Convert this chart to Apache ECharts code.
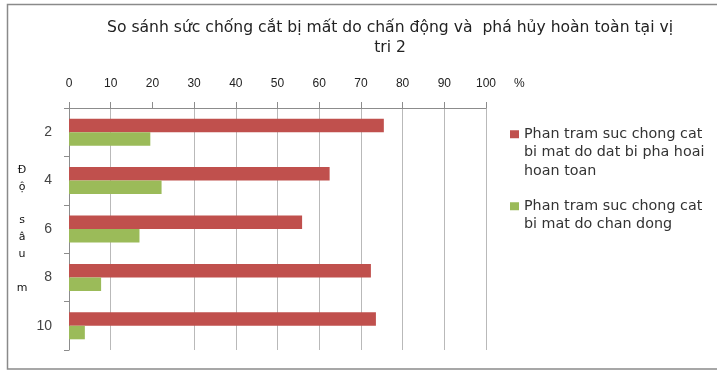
<!DOCTYPE html>
<html>
<head>
<meta charset="utf-8">
<script src="https://cdn.jsdelivr.net/npm/echarts@6/dist/echarts.min.js"></script>
<style>
  html, body { margin: 0; padding: 0; background: #fff; }
  #chart { width: 717px; height: 371px; }
</style>
</head>
<body>
<div id="chart"></div>
<script>
// Depth categories (m), top to bottom
const depths = ['2', '4', '6', '8', '10'];
// Percentage of shear strength lost
const lostByFailure = [75.5, 62.5, 55.9, 72.4, 73.6];
const lostByShaking = [19.5, 22.2, 16.9, 7.7, 3.8];
const seriesNames = [
  'Phan tram suc chong cat bi mat do dat bi pha hoai hoan toan',
  'Phan tram suc chong cat bi mat do chan dong'
];
// Legend labels wrapped; leading blank lines keep the swatch beside the first line
const legendLines = {
  [seriesNames[0]]: '\n\nPhan tram suc chong cat\nbi mat do dat bi pha hoai\nhoan toan',
  [seriesNames[1]]: '\nPhan tram suc chong cat\nbi mat do chan dong'
};
const titleText = 'So sánh sức chống cắt bị mất do chấn động và  phá hủy hoàn toàn tại vị\ntri 2';
const depthName = 'Đ\nộ\n \ns\nâ\nu\n \nm';

const grid = '#b9b9b9';
const axisGray = '#8c8c8c';

const chart = echarts.init(document.getElementById('chart'));
chart.setOption({
  animation: false,
  backgroundColor: '#fff',
  title: {
    text: titleText,
    left: 385,
    top: 13,
    textAlign: 'center',
    textStyle: {
      fontFamily: 'DejaVu Sans',
      fontSize: 15.6,
      fontWeight: 'normal',
      color: '#222',
      lineHeight: 20
    }
  },
  graphic: [{
    type: 'rect',
    shape: { x: 7.5, y: 4.5, width: 720, height: 364.5 },
    style: { fill: 'none', stroke: '#8a8a8a', lineWidth: 1.5 },
    silent: true
  }],
  legend: {
    orient: 'vertical',
    left: 505,
    top: 83,
    itemWidth: 9,
    itemHeight: 8,
    itemGap: -2,
    icon: 'rect',
    formatter: n => legendLines[n],
    textStyle: {
      fontFamily: 'DejaVu Sans',
      fontSize: 14.3,
      color: '#333',
      lineHeight: 18.5
    },
    data: seriesNames
  },
  grid: { left: 69, right: 231, top: 108, bottom: 21, containLabel: false },
  xAxis: {
    type: 'value',
    position: 'top',
    min: 0,
    max: 100,
    interval: 10,
    name: '%\n\n\n',
    nameLocation: 'end',
    nameGap: 28,
    nameTextStyle: {
      fontFamily: 'Liberation Sans',
      fontSize: 12,
      color: '#222',
      lineHeight: 16
    },
    axisLine: { show: true, lineStyle: { color: axisGray, width: 1 } },
    axisTick: { show: true, length: 6, lineStyle: { color: axisGray } },
    axisLabel: {
      margin: 18,
      fontFamily: 'Liberation Sans',
      fontSize: 12,
      color: '#222'
    },
    splitLine: {
      show: true,
      lineStyle: {
        width: 1,
        color: [grid, grid, 'rgba(0,0,0,0)', grid, grid, grid, grid, grid, grid, grid, grid]
      }
    }
  },
  yAxis: {
    type: 'category',
    data: depths,
    inverse: true,
    name: depthName,
    nameLocation: 'middle',
    nameRotate: 0,
    nameGap: 47,
    nameTextStyle: {
      fontFamily: 'DejaVu Sans',
      fontSize: 11,
      color: '#111',
      lineHeight: 16.8,
      align: 'center'
    },
    axisLine: { show: true, lineStyle: { color: axisGray, width: 1 } },
    axisTick: { show: true, length: 5, lineStyle: { color: axisGray } },
    axisLabel: {
      margin: 17,
      fontFamily: 'Liberation Sans',
      fontSize: 14,
      color: '#444'
    },
    splitLine: { show: false }
  },
  series: [
    {
      name: seriesNames[0],
      type: 'bar',
      data: lostByFailure,
      barWidth: 13.5,
      barGap: '0%',
      itemStyle: { color: '#C0504D' }
    },
    {
      name: seriesNames[1],
      type: 'bar',
      data: lostByShaking,
      barWidth: 13.5,
      barGap: '0%',
      itemStyle: { color: '#9BBB59' }
    }
  ]
});
</script>
</body>
</html>
